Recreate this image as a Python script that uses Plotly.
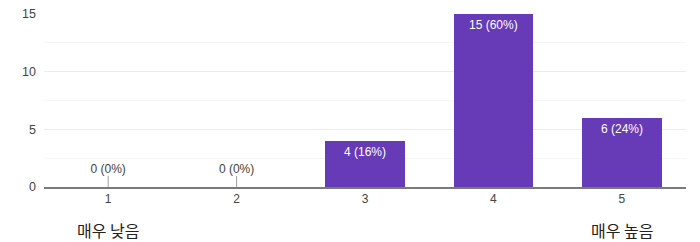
import plotly.graph_objects as go

categories = [1, 2, 3, 4, 5]
counts = [0, 0, 4, 15, 6]
labels = ["0 (0%)", "0 (0%)", "4 (16%)", "15 (60%)", "6 (24%)"]
end_labels = ["매우 낮음", "매우 높음"]
y_ticks = [0, 5, 10, 15]

PURPLE = "#673AB7"
FONT = "Arial, Liberation Sans, sans-serif"

z_x = [c for c, v in zip(categories, counts) if v == 0]
z_t = [t for t, v in zip(labels, counts) if v == 0]
stub = 0.95

fig = go.Figure()
fig.add_trace(go.Bar(
    x=[c for c, v in zip(categories, counts) if v > 0],
    y=[v for v in counts if v > 0], width=0.62,
    marker=dict(color=PURPLE, line=dict(width=0)),
    hoverinfo="skip",
))
for c, v, t in zip(categories, counts, labels):
    if v > 0:
        fig.add_annotation(x=c, y=v, xref="x", yref="y", text=t, showarrow=False,
                           yanchor="top", yshift=-2,
                           font=dict(color="white", size=12, family=FONT))
fig.add_trace(go.Scatter(
    x=z_x, y=[0] * len(z_x), mode="markers",
    marker=dict(size=0.1, color="rgba(0,0,0,0)"),
    error_y=dict(type="data", symmetric=False, array=[stub] * len(z_x),
                 arrayminus=[0] * len(z_x), width=0, thickness=1, color="#9e9e9e"),
    hoverinfo="skip",
))
fig.add_trace(go.Scatter(
    x=z_x, y=[stub] * len(z_x), mode="text", text=z_t,
    textposition="top center",
    textfont=dict(color="#424242", size=12, family=FONT),
    hoverinfo="skip",
))
for cat, lab in zip([categories[0], categories[-1]], end_labels):
    fig.add_annotation(x=cat, xref="x", y=-0.249, yref="paper", text=lab,
                       showarrow=False, yanchor="middle", borderpad=0,
                       font=dict(size=16, color="#212121", family="Noto Sans CJK KR"))

fig.update_layout(
    width=700, height=242,
    margin=dict(l=44, r=14, t=14, b=55, autoexpand=False),
    paper_bgcolor="white", plot_bgcolor="white",
    showlegend=False, bargap=0,
    font=dict(family=FONT, color="#444", size=12),
)
fig.update_xaxes(
    range=[0.5, 5.5], tickvals=categories, ticktext=[str(c) for c in categories],
    showgrid=False, zeroline=False, showline=True, linecolor="#7a7a7a", linewidth=2,
    ticks="", tickfont=dict(size=12, color="#444", family=FONT), automargin=False,
)
fig.update_yaxes(
    range=[0, 15], tickvals=y_ticks, showgrid=True, gridcolor="#ececec", gridwidth=1,
    zeroline=False, showline=False, ticks="", tickfont=dict(size=12.5, color="#444", family=FONT),
    ticklabelstandoff=7, automargin=False,
    minor=dict(dtick=2.5, showgrid=True, gridcolor="#f6f6f6", gridwidth=1),
)

fig.write_html("out.html")
